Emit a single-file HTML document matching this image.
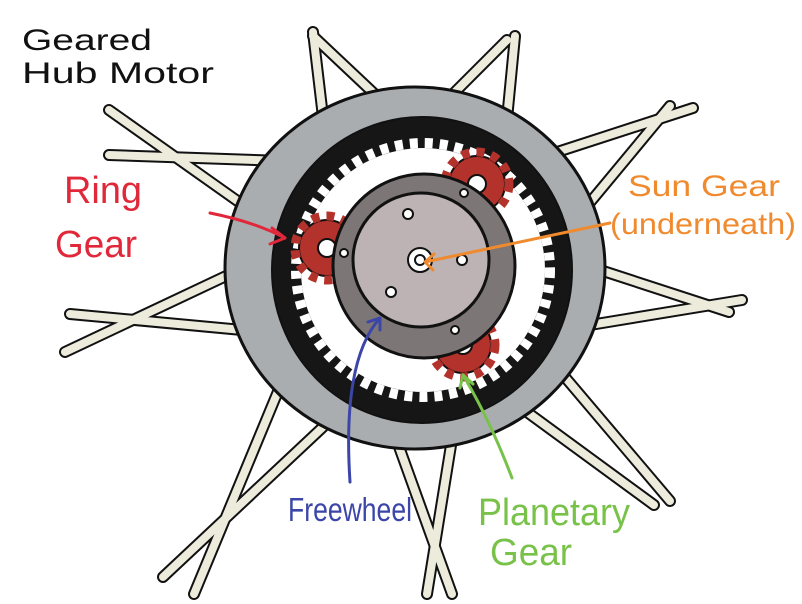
<!DOCTYPE html>
<html><head><meta charset="utf-8"><style>
html,body{margin:0;padding:0;background:#fff;}
svg{display:block}
text{font-family:"Liberation Sans Narrow","Liberation Sans",sans-serif;}
</style></head><body>
<svg width="802" height="604" viewBox="0 0 802 604" xmlns="http://www.w3.org/2000/svg">
<g stroke-linecap="round">
<g stroke="#111" stroke-width="12">
<line x1="313" y1="32" x2="323" y2="117"/><line x1="313" y1="36" x2="383" y2="102"/>
<line x1="515" y1="36" x2="507" y2="119"/><line x1="507" y1="40" x2="445" y2="102"/>
<line x1="109" y1="110" x2="253" y2="212"/><line x1="109" y1="155" x2="284" y2="161"/>
<line x1="65" y1="352" x2="243" y2="268"/><line x1="70" y1="314" x2="253" y2="331"/>
<line x1="194" y1="594" x2="279" y2="389"/><line x1="163" y1="577" x2="323" y2="427"/>
<line x1="452" y1="594" x2="398" y2="444"/><line x1="427" y1="594" x2="452" y2="439"/>
<line x1="670" y1="501" x2="564" y2="376"/><line x1="654" y1="505" x2="527" y2="412"/>
<line x1="693" y1="108" x2="548" y2="155"/><line x1="670" y1="106" x2="587" y2="206"/>
<line x1="742" y1="300" x2="590" y2="325"/><line x1="729" y1="312" x2="600" y2="270"/>
</g>
<g stroke="#ecebdc" stroke-width="8">
<line x1="313" y1="32" x2="323" y2="117"/><line x1="313" y1="36" x2="383" y2="102"/>
<line x1="515" y1="36" x2="507" y2="119"/><line x1="507" y1="40" x2="445" y2="102"/>
<line x1="109" y1="110" x2="253" y2="212"/><line x1="109" y1="155" x2="284" y2="161"/>
<line x1="65" y1="352" x2="243" y2="268"/><line x1="70" y1="314" x2="253" y2="331"/>
<line x1="194" y1="594" x2="279" y2="389"/><line x1="163" y1="577" x2="323" y2="427"/>
<line x1="452" y1="594" x2="398" y2="444"/><line x1="427" y1="594" x2="452" y2="439"/>
<line x1="670" y1="501" x2="564" y2="376"/><line x1="654" y1="505" x2="527" y2="412"/>
<line x1="693" y1="108" x2="548" y2="155"/><line x1="670" y1="106" x2="587" y2="206"/>
<line x1="742" y1="300" x2="590" y2="325"/><line x1="729" y1="312" x2="600" y2="270"/>
</g>
</g>
<ellipse cx="415" cy="268" rx="190" ry="181" fill="#a9adb0" stroke="#111" stroke-width="3"/>
<ellipse cx="422" cy="270" rx="150" ry="153" fill="#161616" stroke="#111" stroke-width="2"/>
<circle cx="423" cy="270" r="122" fill="#fff"/>
<circle cx="423" cy="270" r="127" fill="none" stroke="#fff" stroke-width="10" stroke-dasharray="8 7"/>
<g>
<circle cx="477" cy="184" r="28" fill="#b3332c" stroke="#111" stroke-width="2"/>
<circle cx="477" cy="184" r="32" fill="none" stroke="#b3332c" stroke-width="9" stroke-dasharray="8 7"/>
<circle cx="477" cy="184" r="9" fill="#fff" stroke="#111" stroke-width="2"/>
<circle cx="327" cy="248" r="28" fill="#b3332c" stroke="#111" stroke-width="2"/>
<circle cx="327" cy="248" r="32" fill="none" stroke="#b3332c" stroke-width="9" stroke-dasharray="8 7"/>
<circle cx="327" cy="248" r="9" fill="#fff" stroke="#111" stroke-width="2"/>
<circle cx="463" cy="345" r="28" fill="#b3332c" stroke="#111" stroke-width="2"/>
<circle cx="463" cy="345" r="32" fill="none" stroke="#b3332c" stroke-width="9" stroke-dasharray="8 7"/>
<circle cx="463" cy="345" r="9" fill="#fff" stroke="#111" stroke-width="2"/>
</g>
<ellipse cx="424" cy="266" rx="91" ry="92" fill="#7d7677" stroke="#111" stroke-width="3"/>
<ellipse cx="421" cy="260" rx="68" ry="67" fill="#bdb3b4" stroke="#111" stroke-width="3"/>
<g fill="#fff" stroke="#111" stroke-width="2">
<circle cx="420" cy="260" r="12"/><circle cx="420" cy="260" r="5"/>
<circle cx="408" cy="214" r="5"/><circle cx="462" cy="260" r="5"/><circle cx="391" cy="292" r="5"/>
<circle cx="344" cy="253" r="4"/><circle cx="464" cy="193" r="4"/><circle cx="455" cy="330" r="4"/>
</g>
<g fill="none" stroke-width="3" stroke-linecap="round" stroke-linejoin="round">
<path d="M210 213 Q255 222 285 238" stroke="#e0283a"/><path d="M272 228 L285 238 L270 244" stroke="#e0283a"/>
<path d="M610 223 L425 262" stroke="#f08a2e"/><path d="M434 254 L425 262 L433 270" stroke="#f08a2e"/>
<path d="M350 482 Q342 360 380 318" stroke="#3b46a8"/><path d="M368 322 L380 318 L380 330" stroke="#3b46a8"/>
<path d="M512 478 Q490 420 463 375" stroke="#79c24a"/><path d="M460 388 L463 375 L473 384" stroke="#79c24a"/>
</g>
<g font-size="30">
<text x="22" y="50" fill="#111" textLength="130" lengthAdjust="spacingAndGlyphs">Geared</text>
<text x="22" y="83" fill="#111" textLength="192" lengthAdjust="spacingAndGlyphs">Hub Motor</text>
<text x="64" y="203" fill="#e0283a" font-size="38" textLength="78" lengthAdjust="spacingAndGlyphs">Ring</text>
<text x="55" y="257" fill="#e0283a" font-size="38" textLength="82" lengthAdjust="spacingAndGlyphs">Gear</text>
<text x="628" y="196" fill="#f08a2e" textLength="152" lengthAdjust="spacingAndGlyphs">Sun Gear</text>
<text x="610" y="234" fill="#f08a2e" textLength="186" lengthAdjust="spacingAndGlyphs">(underneath)</text>
<text x="288" y="521" fill="#3b46a8" font-size="33" textLength="124" lengthAdjust="spacingAndGlyphs">Freewheel</text>
<text x="478" y="525" fill="#79c24a" font-size="38" textLength="152" lengthAdjust="spacingAndGlyphs">Planetary</text>
<text x="490" y="565" fill="#79c24a" font-size="38" textLength="82" lengthAdjust="spacingAndGlyphs">Gear</text>
</g>
</svg>
</body></html>
